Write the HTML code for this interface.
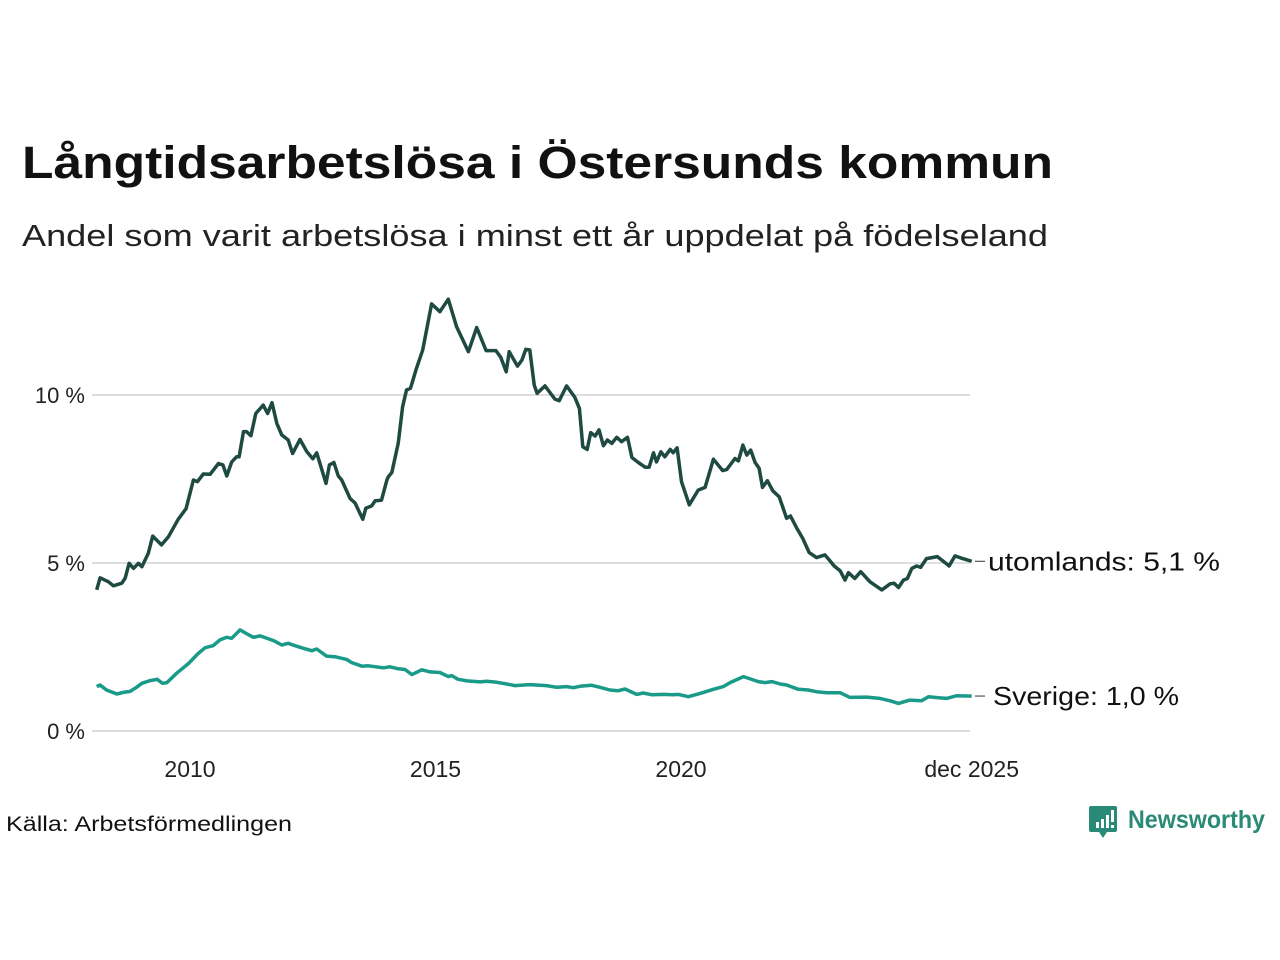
<!DOCTYPE html>
<html><head><meta charset="utf-8"><style>
html,body{margin:0;padding:0;background:#fff;}
svg{display:block;font-family:"Liberation Sans",sans-serif;}
</style></head><body>
<svg id="chart" width="1280" height="960" viewBox="0 0 1280 960" xmlns="http://www.w3.org/2000/svg">
<rect width="1280" height="960" fill="#fff"/>
<text x="22" y="178" font-size="45" font-weight="bold" fill="#111" textLength="1031" lengthAdjust="spacingAndGlyphs">Långtidsarbetslösa i Östersunds kommun</text>
<text x="22" y="246" font-size="31" fill="#222" textLength="1026" lengthAdjust="spacingAndGlyphs">Andel som varit arbetslösa i minst ett år uppdelat på födelseland</text>
<g id="grid"></g>
<g id="yaxis"></g>
<g id="xaxis"></g>
<g id="series"></g>
<g id="labels"></g>
<text x="6" y="831" font-size="21" fill="#111" textLength="286" lengthAdjust="spacingAndGlyphs">Källa: Arbetsförmedlingen</text>
<g>
<path d="M1091 806 h24 a2 2 0 0 1 2 2 v22 a2 2 0 0 1 -2 2 h-8 l-4 6 l-4 -6 h-8 a2 2 0 0 1 -2 -2 v-22 a2 2 0 0 1 2 -2z" fill="#2a8a78"/>
<rect x="1096" y="822" width="3" height="6" fill="#fff"/><rect x="1101" y="819" width="3" height="9" fill="#fff"/><rect x="1106" y="815" width="3" height="13" fill="#fff"/><rect x="1111" y="810" width="3" height="12" fill="#fff"/><rect x="1111" y="825" width="3" height="3" fill="#fff"/>
<text x="1128" y="828" font-size="25" font-weight="bold" fill="#2a8a78" textLength="137" lengthAdjust="spacingAndGlyphs">Newsworthy</text>
</g>
</svg>
<script>
var uDates=[2008.10,2008.17,2008.34,2008.44,2008.61,2008.68,2008.76,2008.85,2008.95,2009.02,2009.15,2009.24,2009.42,2009.56,2009.76,2009.92,2010.07,2010.15,2010.27,2010.41,2010.58,2010.67,2010.75,2010.85,2010.95,2011.00,2011.09,2011.15,2011.24,2011.34,2011.49,2011.58,2011.67,2011.77,2011.87,2012.00,2012.09,2012.24,2012.38,2012.50,2012.58,2012.77,2012.84,2012.93,2013.02,2013.09,2013.26,2013.36,2013.52,2013.58,2013.70,2013.77,2013.90,2014.01,2014.04,2014.11,2014.15,2014.24,2014.33,2014.41,2014.49,2014.60,2014.74,2014.92,2015.09,2015.26,2015.43,2015.67,2015.84,2016.03,2016.23,2016.33,2016.44,2016.50,2016.67,2016.76,2016.84,2016.92,2017.01,2017.07,2017.23,2017.43,2017.52,2017.67,2017.84,2017.93,2018.00,2018.09,2018.16,2018.25,2018.33,2018.42,2018.50,2018.59,2018.69,2018.79,2018.91,2019.00,2019.13,2019.27,2019.35,2019.44,2019.50,2019.59,2019.67,2019.78,2019.84,2019.92,2020.01,2020.17,2020.35,2020.49,2020.66,2020.85,2020.93,2021.10,2021.17,2021.26,2021.34,2021.42,2021.51,2021.59,2021.66,2021.76,2021.87,2022.00,2022.15,2022.23,2022.36,2022.48,2022.61,2022.76,2022.93,2023.02,2023.12,2023.24,2023.34,2023.41,2023.54,2023.66,2023.85,2024.09,2024.26,2024.34,2024.43,2024.53,2024.61,2024.70,2024.80,2024.88,2025.00,2025.22,2025.38,2025.46,2025.58,2025.72,2025.92];
var uValues=[4.20,4.56,4.44,4.32,4.40,4.55,4.99,4.84,4.99,4.89,5.29,5.80,5.54,5.78,6.30,6.62,7.47,7.42,7.65,7.64,7.96,7.92,7.59,8.01,8.16,8.16,8.91,8.91,8.79,9.45,9.70,9.45,9.77,9.15,8.81,8.66,8.26,8.68,8.31,8.10,8.28,7.37,7.92,7.99,7.59,7.47,6.92,6.79,6.30,6.63,6.70,6.85,6.87,7.47,7.57,7.69,7.96,8.56,9.65,10.15,10.20,10.74,11.34,12.71,12.48,12.85,12.03,11.29,12.01,11.32,11.32,11.12,10.69,11.29,10.86,11.04,11.36,11.34,10.30,10.05,10.27,9.88,9.83,10.27,9.93,9.60,8.46,8.38,8.88,8.78,8.96,8.49,8.66,8.56,8.74,8.61,8.74,8.14,7.99,7.85,7.85,8.28,8.01,8.31,8.16,8.38,8.28,8.43,7.42,6.73,7.17,7.25,8.09,7.75,7.78,8.11,8.04,8.51,8.21,8.36,7.99,7.82,7.25,7.45,7.15,6.97,6.33,6.40,6.03,5.73,5.31,5.16,5.24,5.09,4.91,4.77,4.49,4.71,4.54,4.74,4.44,4.20,4.38,4.40,4.27,4.49,4.54,4.84,4.91,4.87,5.13,5.19,5.01,4.91,5.21,5.14,5.05];
var sDates=[2008.10,2008.17,2008.30,2008.51,2008.64,2008.78,2008.91,2009.02,2009.19,2009.33,2009.44,2009.53,2009.73,2009.97,2010.17,2010.31,2010.47,2010.61,2010.75,2010.85,2011.02,2011.15,2011.29,2011.43,2011.70,2011.87,2012.00,2012.14,2012.31,2012.48,2012.58,2012.78,2012.95,2013.19,2013.29,2013.50,2013.63,2013.94,2014.07,2014.24,2014.38,2014.52,2014.72,2014.89,2015.09,2015.26,2015.33,2015.46,2015.64,2015.91,2016.04,2016.25,2016.45,2016.62,2016.92,2017.26,2017.47,2017.67,2017.81,2017.94,2018.18,2018.35,2018.55,2018.72,2018.86,2019.10,2019.23,2019.40,2019.64,2019.84,2019.95,2020.15,2020.39,2020.66,2020.86,2021.00,2021.27,2021.41,2021.57,2021.71,2021.85,2022.02,2022.15,2022.39,2022.59,2022.76,2022.97,2023.24,2023.44,2023.78,2024.05,2024.26,2024.43,2024.66,2024.90,2025.04,2025.24,2025.41,2025.62,2025.92];
var sValues=[1.32,1.37,1.22,1.10,1.15,1.18,1.30,1.42,1.50,1.54,1.42,1.44,1.72,2.01,2.31,2.48,2.54,2.71,2.79,2.76,3.01,2.90,2.79,2.83,2.69,2.56,2.61,2.54,2.46,2.39,2.44,2.23,2.21,2.13,2.04,1.93,1.94,1.88,1.91,1.85,1.83,1.68,1.82,1.76,1.74,1.62,1.65,1.54,1.49,1.46,1.48,1.45,1.40,1.35,1.38,1.35,1.30,1.32,1.29,1.33,1.36,1.30,1.22,1.20,1.25,1.09,1.13,1.08,1.09,1.08,1.09,1.02,1.12,1.24,1.32,1.44,1.62,1.55,1.47,1.44,1.47,1.40,1.37,1.24,1.22,1.17,1.14,1.14,1.00,1.01,0.97,0.90,0.82,0.92,0.90,1.02,0.99,0.97,1.05,1.04];
var yTicks=[0,5,10];
var yTickLabels=["0 %","5 %","10 %"];
var xTicks=[2010,2015,2020,2025.92];
var xTickLabels=["2010","2015","2020","dec 2025"];
var seriesNames=["utomlands: 5,1 %","Sverige: 1,0 %"];

var NS="http://www.w3.org/2000/svg";
function X(t){return 190+(t-2010)*49.1;}
function Y(v){return 731-v*33.6;}
function mk(tag,attrs,parent){var e=document.createElementNS(NS,tag);for(var k in attrs){e.setAttribute(k,attrs[k]);}parent.appendChild(e);return e;}
var grid=document.getElementById('grid'),ya=document.getElementById('yaxis'),xa=document.getElementById('xaxis'),se=document.getElementById('series'),lb=document.getElementById('labels');
yTicks.forEach(function(v,i){
  var l=mk('line',{x1:92,x2:970,y1:Y(v),y2:Y(v),stroke:'#dedede','stroke-width':2},grid);
  
  
  var t=mk('text',{x:85,y:Y(v)+8,'text-anchor':'end','font-size':22,fill:'#222'},ya);
  t.textContent=yTickLabels[i];
  
  
});
xTicks.forEach(function(v,i){
  var t=mk('text',{x:X(v),y:777,'text-anchor':'middle','font-size':23,fill:'#222'},xa);
  t.textContent=xTickLabels[i];
  
  
});
function drawLine(d,v,color,name){
  var s='';for(var i=0;i<d.length;i++){s+=(i?'L':'M')+X(d[i]).toFixed(1)+' '+Y(v[i]).toFixed(1);}
  var p=mk('path',{d:s,fill:'none',stroke:color,'stroke-width':3.5,'stroke-linejoin':'round'},se);
  
  
}
drawLine(uDates,uValues,'#1f4a42','line-utomlands');
drawLine(sDates,sValues,'#1a9a88','line-sverige');
function endLabel(v,txt,x0,w,name){
  var y=Y(v);
  var tick=mk('line',{x1:975,x2:985,y1:y,y2:y,stroke:'#555','stroke-width':1.2},lb);
  
  
  var t=mk('text',{x:x0,y:y+9,'font-size':26,fill:'#111',textLength:w,lengthAdjust:'spacingAndGlyphs'},lb);
  t.textContent=txt;
  
  
}
endLabel(uValues[uValues.length-1],seriesNames[0],988,232,'label-utomlands');
endLabel(sValues[sValues.length-1],seriesNames[1],993,186,'label-sverige');
</script>
</body></html>
